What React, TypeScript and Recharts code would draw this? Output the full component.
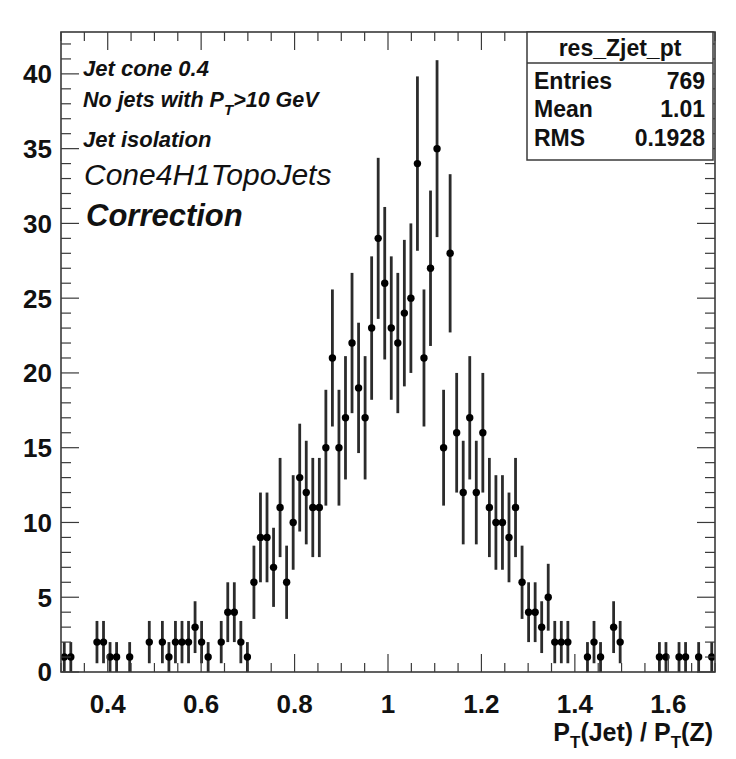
import { ComposedChart, Scatter, XAxis, YAxis, ErrorBar } from "recharts";

const W = 736;
const H = 759;
// plot frame in page pixels
const PLOT_LEFT = 61;
const PLOT_RIGHT = 715;
const PLOT_TOP = 32;
const PLOT_BOTTOM = 672;

const FONT = "'Liberation Sans', Arial, Helvetica, sans-serif";
const INK = "#3a3a3a";

// histogram: 100 bins from 0.3 to 1.7
const xMin = 0.3;
const xMax = 1.7;
const nBins = 100;
const counts = [
  1, 1, 0, 0, 0, 2, 2, 1, 1, 0,
  1, 0, 0, 2, 0, 2, 1, 2, 2, 2,
  3, 2, 1, 0, 2, 4, 4, 2, 1, 6,
  9, 9, 7, 11, 6, 10, 13, 12, 11, 11,
  15, 21, 15, 17, 22, 19, 17, 23, 29, 26,
  23, 22, 24, 25, 34, 21, 27, 35, 15, 28,
  16, 12, 17, 12, 16, 11, 10, 10, 9, 11,
  6, 4, 4, 3, 5, 2, 2, 2, 0, 0,
  1, 2, 1, 0, 3, 2, 0, 0, 0, 0,
  0, 1, 1, 0, 1, 1, 0, 1, 0, 1,
];

const yMax = 42.8;
const xTicks = [
  0.3, 0.35, 0.4, 0.45, 0.5, 0.55, 0.6, 0.65, 0.7, 0.75, 0.8, 0.85, 0.9, 0.95, 1,
  1.05, 1.1, 1.15, 1.2, 1.25, 1.3, 1.35, 1.4, 1.45, 1.5, 1.55, 1.6, 1.65, 1.7,
];
const xLabels = [0.4, 0.6, 0.8, 1, 1.2, 1.4, 1.6];
const yTicks = [
  0, 1, 2, 3, 4, 5, 6, 7, 8, 9, 10, 11, 12, 13, 14, 15, 16, 17, 18, 19, 20, 21,
  22, 23, 24, 25, 26, 27, 28, 29, 30, 31, 32, 33, 34, 35, 36, 37, 38, 39, 40, 41, 42,
];
const yLabels = [0, 5, 10, 15, 20, 25, 30, 35, 40];

const statsTitle = "res_Zjet_pt";
const statsRows = [
  ["Entries", "769"],
  ["Mean", "1.01"],
  ["RMS", "0.1928"],
];

const binWidth = (xMax - xMin) / nBins;
const points = counts
  .map((n, i) => ({ x: xMin + binWidth * (i + 0.5), y: n, err: Math.sqrt(n) }))
  .filter((p) => p.y > 0);

const isIn = (list: number[], v: number) => list.some((t) => Math.abs(t - v) < 1e-6);

function XTick(props: any) {
  const { x, y, payload } = props;
  const major = isIn(xLabels, payload.value);
  const len = major ? 18 : 9;
  return (
    <g>
      <line x1={x} x2={x} y1={y} y2={y - len} stroke={INK} strokeWidth={1.2} />
      <line x1={x} x2={x} y1={PLOT_TOP} y2={PLOT_TOP + len} stroke={INK} strokeWidth={1.2} />
      {major && (
        <text x={x} y={y + 41} textAnchor="middle" fontFamily={FONT} fontWeight="bold" fontSize={26} fill="#111">
          {String(payload.value)}
        </text>
      )}
    </g>
  );
}

function YTick(props: any) {
  const { x, y, payload } = props;
  const major = isIn(yLabels, payload.value);
  const len = major ? 18 : 10;
  return (
    <g>
      <line x1={x} x2={x + len} y1={y} y2={y} stroke={INK} strokeWidth={1.2} />
      <line x1={PLOT_RIGHT} x2={PLOT_RIGHT - len} y1={y} y2={y} stroke={INK} strokeWidth={1.2} />
      {major && (
        <text x={x - 9} y={y} dy="0.36em" textAnchor="end" fontFamily={FONT} fontWeight="bold" fontSize={26} fill="#111">
          {String(payload.value)}
        </text>
      )}
    </g>
  );
}

const Marker = (props: any) => <circle cx={props.cx} cy={props.cy} r={3.7} fill="#000" />;

export default function App() {
  return (
    <div style={{ position: "absolute", left: 0, top: 0, width: W, height: H, background: "#fff" }}>
      <ComposedChart
        width={W}
        height={H}
        margin={{ top: PLOT_TOP, right: W - PLOT_RIGHT, bottom: 0, left: 0 }}
      >
        <XAxis
          type="number"
          dataKey="x"
          domain={[xMin, xMax]}
          ticks={xTicks}
          interval={0}
          allowDataOverflow
          height={H - PLOT_BOTTOM}
          axisLine={false}
          tickLine={false}
          tickSize={0}
          tickMargin={0}
          tick={(p: any) => <XTick {...p} />}
        />
        <YAxis
          type="number"
          dataKey="y"
          domain={[0, yMax]}
          ticks={yTicks}
          interval={0}
          allowDataOverflow
          width={PLOT_LEFT}
          axisLine={false}
          tickLine={false}
          tickSize={0}
          tickMargin={0}
          tick={(p: any) => <YTick {...p} />}
        />
        <Scatter data={points} isAnimationActive={false} shape={Marker}>
          <ErrorBar dataKey="err" direction="y" width={0} stroke="#2b2b2b" strokeWidth={2.8} isAnimationActive={false} />
        </Scatter>
      </ComposedChart>

      {/* frame, stats box and labels drawn on top */}
      <svg width={W} height={H} style={{ position: "absolute", left: 0, top: 0, pointerEvents: "none" }}>
        <rect
          x={PLOT_LEFT}
          y={PLOT_TOP}
          width={PLOT_RIGHT - PLOT_LEFT}
          height={PLOT_BOTTOM - PLOT_TOP}
          fill="none"
          stroke={INK}
          strokeWidth={1.6}
        />

        <g fontFamily={FONT} fill="#111">
          <text x={83} y={76} fontSize={22} fontWeight="bold" fontStyle="italic">Jet cone 0.4</text>
          <text x={83} y={107} fontSize={21.5} fontWeight="bold" fontStyle="italic">
            No jets with P<tspan dy={8} fontSize={15}>T</tspan>
            <tspan dy={-8}>&gt;10 GeV</tspan>
          </text>
          <text x={83} y={147} fontSize={22} fontWeight="bold" fontStyle="italic">Jet isolation</text>
          <text x={84} y={185} fontSize={30} fontStyle="italic">Cone4H1TopoJets</text>
          <text x={86} y={226} fontSize={31} fontWeight="bold" fontStyle="italic">Correction</text>
        </g>

        <rect x={527} y={32} width={186} height={128} fill="#fff" stroke={INK} strokeWidth={1.5} />
        <line x1={527} x2={713} y1={63} y2={63} stroke={INK} strokeWidth={1.5} />
        <g fontFamily={FONT} fill="#111">
          <text x={620} y={56} textAnchor="middle" fontSize={23} fontWeight="bold">{statsTitle}</text>
          {statsRows.map(([k, v], i) => (
            <g key={k}>
              <text x={534} y={89 + i * 28.3} fontSize={23} fontWeight="bold">{k}</text>
              <text x={705} y={89 + i * 28.3} fontSize={23} fontWeight="bold" textAnchor="end">{v}</text>
            </g>
          ))}
          <text x={713} y={741} textAnchor="end" fontSize={25} fontWeight="bold">
            P<tspan dy={7} fontSize={17}>T</tspan>
            <tspan dy={-7}>(Jet) / P</tspan>
            <tspan dy={7} fontSize={17}>T</tspan>
            <tspan dy={-7}>(Z)</tspan>
          </text>
        </g>
      </svg>
    </div>
  );
}
